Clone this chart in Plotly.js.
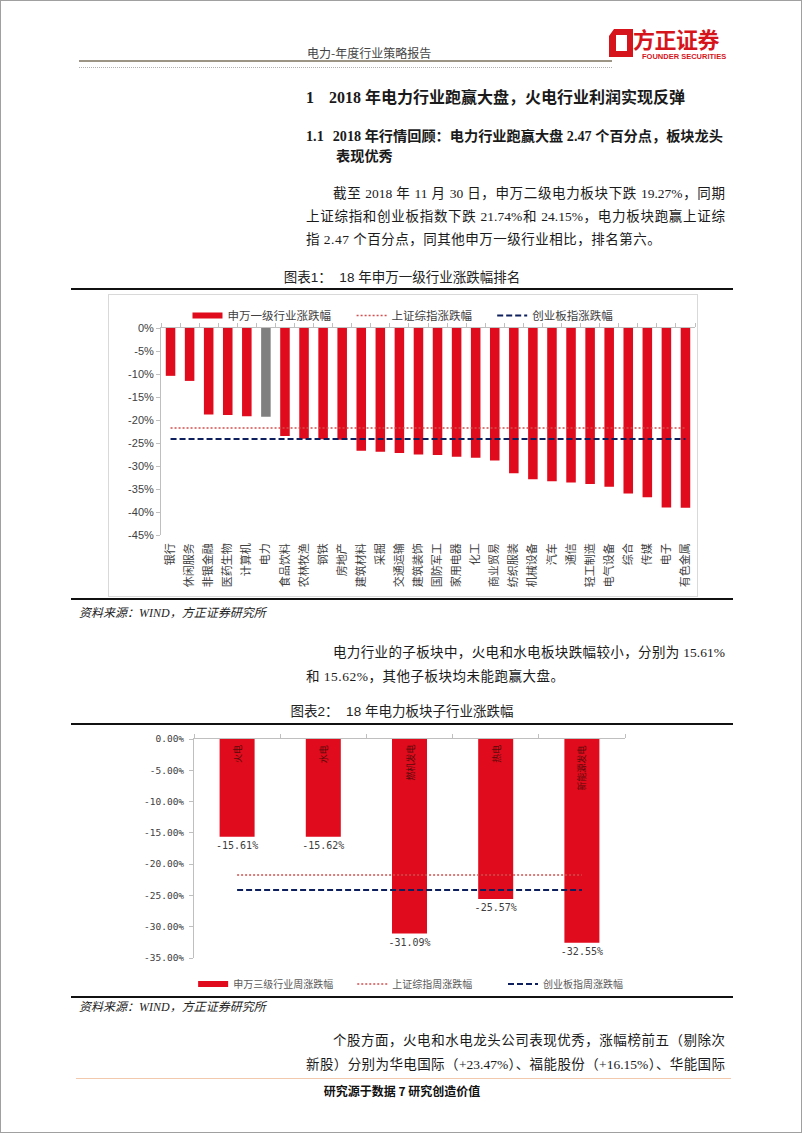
<!DOCTYPE html>
<html><head><meta charset="utf-8">
<script src="https://cdn.plot.ly/plotly-3.0.1.min.js"></script>
<style>
body{margin:0;background:#fff;}
#page{position:relative;width:802px;height:1133px;overflow:hidden;background:#fff;box-sizing:border-box;border:1px solid #a0a0a0;
 font-family:"Liberation Serif","Noto Sans CJK SC",serif;color:#1a1a1a;}
.t{position:absolute;white-space:nowrap;line-height:20px;height:20px;}
.b{font-size:13.5px;}
.j{text-align:justify;text-align-last:justify;white-space:normal;overflow:hidden;}
.rule{position:absolute;background:#111;}
.src{position:absolute;left:78px;font-size:12px;font-style:italic;font-family:"Liberation Serif","Noto Sans CJK SC",serif;color:#222;}
.ftitle{position:absolute;left:70px;width:662px;text-align:center;font-size:13.5px;font-family:"Liberation Sans","Noto Sans CJK SC",sans-serif;color:#222;}
</style></head>
<body>
<div id="page">
  <!-- header -->
  <div class="t" style="left:306px;top:42px;font-size:12px;color:#444;font-family:'Noto Sans CJK SC';">电力-年度行业策略报告</div>
  <div style="position:absolute;left:78px;top:59px;width:533px;height:2px;background:#9c9484;"></div>
  <div style="position:absolute;left:78px;top:66px;width:533px;height:0;border-top:1px dotted #b0b0b0;"></div>
  <svg style="position:absolute;left:605px;top:26px;" width="30" height="32" viewBox="0 0 30 32">
    <path d="M8 2 L27 2 L27 30 L3 30 L3 9 Z M10 8 L10 24 L21 24 L21 8 Z" fill="#d6141c" fill-rule="evenodd"/>
  </svg>
  <div class="t" style="left:632px;top:26px;height:23px;line-height:23px;font-size:22px;font-weight:bold;color:#d6141c;font-family:'Noto Sans CJK SC';letter-spacing:-0.5px;">方正证券</div>
  <div class="t" style="left:641px;top:51px;height:9px;line-height:9px;font-size:7.5px;font-weight:bold;color:#d6141c;font-family:'Liberation Sans';">FOUNDER SECURITIES</div>

  <!-- headings -->
  <div class="t" style="left:305px;top:87px;font-size:16px;font-weight:bold;font-family:'Liberation Serif','Noto Sans CJK SC';">1<span style="display:inline-block;width:15px"></span>2018 年电力行业跑赢大盘，火电行业利润实现反弹</div>
  <div class="t" style="left:305px;top:125px;font-size:14.2px;font-weight:bold;font-family:'Liberation Serif','Noto Sans CJK SC';">1.1<span style="display:inline-block;width:9px"></span>2018 年行情回顾：电力行业跑赢大盘 2.47 个百分点，板块龙头</div>
  <div class="t" style="left:335px;top:145px;font-size:14.2px;font-weight:bold;font-family:'Liberation Serif','Noto Sans CJK SC';">表现优秀</div>

  <!-- paragraph 1 -->
  <div class="t b j" style="left:332px;top:183px;width:392px;">截至 2018 年 11 月 30 日，申万二级电力板块下跌 19.27%，同期</div>
  <div class="t b j" style="left:305px;top:206px;width:419px;">上证综指和创业板指数下跌 21.74%和 24.15%，电力板块跑赢上证综</div>
  <div class="t b" style="left:305px;top:229px;letter-spacing:0.5px;">指 2.47 个百分点，同其他申万一级行业相比，排名第六。</div>

  <!-- figure 1 -->
  <div class="ftitle" style="top:267px;line-height:20px;">图表1：&nbsp;&nbsp;18 年申万一级行业涨跌幅排名</div>
  <div class="rule" style="left:70px;top:287px;width:662px;height:2px;"></div>
  <div style="position:absolute;left:107px;top:293px;width:590px;height:303px;box-sizing:border-box;border:1px solid #d9d9d9;"></div>
  <div id="c1" style="position:absolute;left:108px;top:294px;width:588px;height:301px;"></div>
  <div class="rule" style="left:70px;top:597px;width:662px;height:2px;"></div>
  <div class="src" style="top:602px;line-height:20px;">资料来源：WIND，方正证券研究所</div>

  <!-- paragraph 2 -->
  <div class="t b j" style="left:332px;top:642px;width:392px;">电力行业的子板块中，火电和水电板块跌幅较小，分别为 15.61%</div>
  <div class="t b" style="left:305px;top:666px;letter-spacing:0.5px;">和 15.62%，其他子板块均未能跑赢大盘。</div>

  <!-- figure 2 -->
  <div class="ftitle" style="top:701px;line-height:20px;">图表2：&nbsp;&nbsp;18 年电力板块子行业涨跌幅</div>
  <div class="rule" style="left:70px;top:722px;width:662px;height:2px;"></div>
  <div id="c2" style="position:absolute;left:70px;top:726px;width:662px;height:290px;"></div>
  <div class="rule" style="left:70px;top:995px;width:662px;height:2px;"></div>
  <div class="src" style="top:996px;line-height:20px;">资料来源：WIND，方正证券研究所</div>

  <!-- paragraph 3 -->
  <div class="t b j" style="left:332px;top:1030px;width:392px;">个股方面，火电和水电龙头公司表现优秀，涨幅榜前五（剔除次</div>
  <div class="t b j" style="left:305px;top:1054px;width:419px;">新股）分别为华电国际（+23.47%）、福能股份（+16.15%）、华能国际</div>

  <!-- footer -->
  <div style="position:absolute;left:75px;top:1077px;width:655px;height:1px;background:#f2c9ad;"></div>
  <div style="position:absolute;left:0;width:802px;top:1081px;text-align:center;font-size:12px;font-weight:bold;line-height:18px;font-family:'Noto Sans CJK SC';color:#111;">研究源于数据 7 研究创造价值</div>
</div>

<script>
// ---------- data ----------
const industries = ['银行','休闲服务','非银金融','医药生物','计算机','电力','食品饮料','农林牧渔','钢铁','房地产',
  '建筑材料','采掘','交通运输','建筑装饰','国防军工','家用电器','化工','商业贸易','纺织服装','机械设备',
  '汽车','通信','轻工制造','电气设备','综合','传媒','电子','有色金属'];
const industryChange = [-10.4,-11.5,-18.8,-18.9,-19.2,-19.27,-23.5,-24.1,-24.2,-24.3,
  -26.7,-26.9,-27.2,-27.5,-27.6,-28.0,-28.2,-28.8,-31.6,-32.9,
  -33.3,-33.6,-33.9,-34.5,-36.0,-36.8,-39.0,-39.1];
const highlightIndustry = '电力';
const shComposite = -21.74;   // 上证综指
const chiNext = -24.15;       // 创业板指
const yTicks1 = [0,-5,-10,-15,-20,-25,-30,-35,-40,-45];

const subSectors = ['火电','水电','燃机发电','热电','新能源发电'];
const subChange = [-15.61,-15.62,-31.09,-25.57,-32.55];
const yTicks2 = [0,-5,-10,-15,-20,-25,-30,-35];

const seriesNames1 = ['申万一级行业涨跌幅','上证综指涨跌幅','创业板指涨跌幅'];
const seriesNames2 = ['申万三级行业周涨跌幅','上证综指周涨跌幅','创业板指周涨跌幅'];

// ---------- styles ----------
const RED = '#e00b1c', GRAY = '#808080', DOT = '#d0504e', NAVY = '#0e1f5e', AX = '#bfbfbf';
const cfg = {displayModeBar:false, staticPlot:true};
const legendBase = (x, y, size, color) => ({orientation:'h', x:x, xanchor:'left', y:y, yanchor:'middle',
  bgcolor:'rgba(0,0,0,0)', font:{family:'Noto Sans CJK SC', size:size, color:color}});

// ---------- chart 1 ----------
Plotly.newPlot('c1', [
  {type:'bar', x:industries, y:industryChange, showlegend:false, hoverinfo:'none',
   marker:{color:industries.map(c => c === highlightIndustry ? GRAY : RED)}},
  {type:'scatter', x:[null], y:[null], mode:'lines', name:seriesNames1[0], xaxis:'x2', legend:'legend',
   line:{color:RED, width:6}},
  {type:'scatter', x:industries, y:industries.map(() => shComposite), mode:'lines', name:seriesNames1[1], xaxis:'x2',
   legend:'legend2', line:{color:DOT, width:1.5, dash:'2px,2px'}},
  {type:'scatter', x:industries, y:industries.map(() => chiNext), mode:'lines', name:seriesNames1[2], xaxis:'x2',
   legend:'legend3', line:{color:NAVY, width:2, dash:'6px,3px'}}
], {
  width:588, height:301, margin:{l:51.5, r:2, t:33, b:61},
  paper_bgcolor:'rgba(0,0,0,0)', plot_bgcolor:'rgba(0,0,0,0)',
  bargap:0.5,
  font:{family:'Noto Sans CJK SC', color:'#404040'},
  xaxis:{type:'category', categoryarray:industries, tickangle:-90, showline:false, ticks:'', showgrid:false, zeroline:false,
    ticklabelstandoff:5, tickfont:{family:'Noto Sans CJK SC', size:11, color:'#404040'}},
  xaxis2:{type:'category', overlaying:'x', matches:'x', side:'top', anchor:'y', showline:true, linecolor:AX, linewidth:1,
    ticks:'outside', tickson:'boundaries', ticklen:4, tickcolor:AX, showticklabels:false, showgrid:false, zeroline:false},
  yaxis:{range:[-45,0], tickmode:'array', tickvals:yTicks1, ticktext:yTicks1.map(v => v + '%'),
    showline:true, linecolor:AX, ticks:'outside', ticklen:4, tickcolor:AX, showgrid:false, zeroline:false,
    tickfont:{family:'Liberation Sans', size:11, color:'#404040'}},
  legend: legendBase(0.0496, 1.06, 11.5, '#404040'),
  legend2: legendBase(0.3569, 1.06, 11.5, '#404040'),
  legend3: legendBase(0.6202, 1.06, 11.5, '#404040')
}, cfg);

// ---------- chart 2 ----------
Plotly.newPlot('c2', [
  {type:'bar', x:subSectors, y:subChange, showlegend:false, hoverinfo:'none',
   marker:{color:RED}, text:subChange.map(v => v.toFixed(2) + '%'), textposition:'outside', constraintext:'none',
   cliponaxis:false, textfont:{family:'DejaVu Sans Mono', size:10, color:'#404040'}},
  {type:'scatter', x:[null], y:[null], mode:'lines', name:seriesNames2[0], legend:'legend', line:{color:RED, width:6}},
  {type:'scatter', x:subSectors, y:subSectors.map(() => shComposite), mode:'lines', name:seriesNames2[1],
   legend:'legend2', line:{color:DOT, width:1.5, dash:'2px,2px'}},
  {type:'scatter', x:subSectors, y:subSectors.map(() => chiNext), mode:'lines', name:seriesNames2[2],
   legend:'legend3', line:{color:NAVY, width:2, dash:'6px,3px'}}
], {
  width:662, height:290, margin:{l:122.7, r:108, t:12.3, b:59},
  paper_bgcolor:'rgba(0,0,0,0)', plot_bgcolor:'rgba(0,0,0,0)',
  bargap:0.594,
  xaxis:{type:'category', categoryarray:subSectors, side:'top', showline:true, linecolor:AX, ticks:'outside',
    tickson:'boundaries', ticklen:4, tickcolor:AX, showticklabels:false, showgrid:false, zeroline:false},
  yaxis:{range:[-35,0], tickmode:'array', tickvals:yTicks2, ticktext:yTicks2.map(v => v.toFixed(2) + '%'),
    showline:true, linecolor:AX, ticks:'outside', ticklen:4, tickcolor:AX, showgrid:false, zeroline:false,
    ticklabelstandoff:3, tickfont:{family:'DejaVu Sans Mono', size:9.5, color:'#404040'}},
  annotations: subSectors.map(s => ({x:s, y:0, xref:'x', yref:'y', text:s, textangle:-90, showarrow:false,
    yanchor:'top', yshift:-4, font:{family:'Noto Sans CJK SC', size:9, color:'#5a0a0a'}})),
  legend: legendBase(-0.002, -0.119, 10, '#595959'),
  legend2: legendBase(0.3672, -0.119, 10, '#595959'),
  legend3: legendBase(0.717, -0.119, 10, '#595959')
}, cfg);
</script>
</body></html>
